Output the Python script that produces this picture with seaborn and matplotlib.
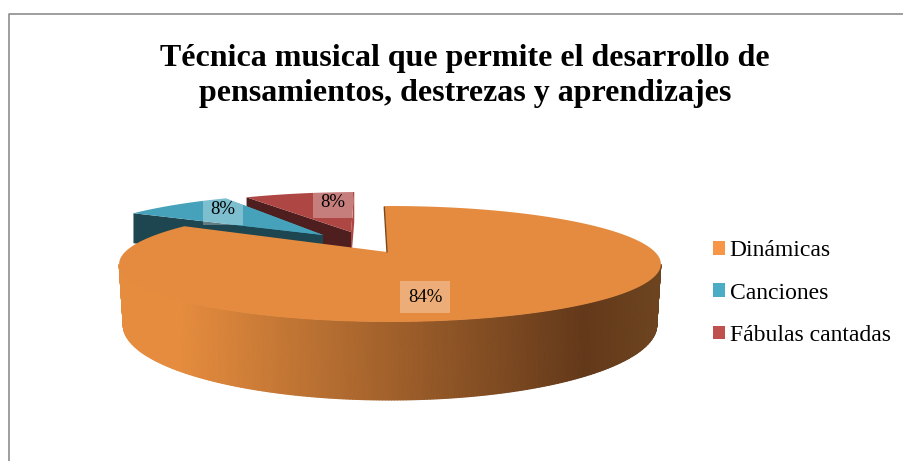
import numpy as np
import seaborn as sns
import matplotlib.pyplot as plt
from matplotlib.patches import Patch

# datos del grafico
categorias = ['Dinámicas', 'Canciones', 'Fábulas cantadas']
valores = [84, 8, 8]
titulo = 'Técnica musical que permite el desarrollo de\npensamientos, destrezas y aprendizajes'

# colores
colores_tope = ['#E48B3F', '#46A2BB', '#AE4744']
colores_leyenda = ['#F79646', '#4BACC6', '#C0504D']
colores_pared = ['#7A4A1E', '#1D4650', '#4F1E1E']

sns.set_theme(style='white')
plt.rcParams['font.family'] = ['Liberation Serif', 'DejaVu Serif']

# desplazamiento de cada porcion y su vertice, en pixeles
desplaza = [(0, 0), (-51, -13), (-30, -14)]
vertices = [(387, 252), (323, 235), (351, 232)]
pos_etiquetas = [(425, 295), (223, 207), (333, 200)]
INICIO = -1.5
K = 0.207


def borde(theta, a, b, y0):
    # perspectiva sobre el disco unidad, angulo desde arriba en sentido horario
    t = np.radians(theta)
    x, y = np.sin(t), np.cos(t)
    d = 1 + K * y
    return 390 + a * x / d, y0 - b * y / d


def tope(theta):
    return borde(theta, 265, 55.5, 252)


fig = plt.figure(figsize=(9.04, 4.61), dpi=100)
ax = fig.add_axes([0, 0, 1, 1])
ax.set_xlim(0, 904)
ax.set_ylim(461, 0)
ax.axis('off')

# marco del grafico
ax.plot([9.5, 9.5, 904], [461, 14.5, 14.5], color='#8E8E8E', lw=1.2)

# angulos de cada porcion a partir de los valores
acum = np.cumsum([0] + valores) / sum(valores) * 360 + INICIO

# porciones separadas: primero roja, luego azul
for i in [2, 1]:
    th = np.linspace(acum[i], acum[i + 1], 40)
    rx, ry = tope(th)
    rx = rx + desplaza[i][0]
    ry = ry + desplaza[i][1]
    vx, vy = vertices[i]
    prof = 30
    # paredes interiores
    ax.fill([rx[-1], vx, vx, rx[-1]], [ry[-1], vy, vy + prof, ry[-1] + prof],
            color=colores_tope[i], lw=0)
    ax.fill([rx[0], vx, vx, rx[0]], [ry[0], vy, vy + prof, ry[0] + prof],
            color=colores_pared[i], lw=0)
    ax.fill(np.r_[vx, rx], np.r_[vy, ry], color=colores_tope[i], lw=0)

# lateral de la porcion naranja con degradado
th = np.linspace(102, 258, 300)
x_sup, y_sup = tope(th)
x_inf, y_inf = borde(th, 261, 71.8, 309.5)
malla_x = np.column_stack([x_sup, x_inf])
malla_y = np.column_stack([y_sup, y_inf])
tonos = np.interp(malla_x, [180, 585, 661], [0, 0.5, 1])
degradado = sns.blend_palette(['#E58C3E', '#63391A', '#6E4520'], as_cmap=True)
ax.pcolormesh(malla_x, malla_y, tonos, shading='gouraud', cmap=degradado, vmin=0, vmax=1)

# pared fina al inicio de la porcion naranja
x0, y0 = tope(acum[0])
ax.plot([x0, vertices[0][0]], [y0 + 1, vertices[0][1]], color=colores_pared[0], lw=1)

# cara superior naranja
th = np.linspace(acum[0], acum[1], 300)
rx, ry = tope(th)
ax.fill(np.r_[vertices[0][0], rx], np.r_[vertices[0][1], ry], color=colores_tope[0], lw=0)

# etiquetas de porcentaje
for v, (ex, ey) in zip(valores, pos_etiquetas):
    ax.text(ex, ey, f'{v}%', ha='center', va='center_baseline', fontsize=13.5, color='black',
            bbox=dict(boxstyle='square,pad=0.42', fc='white', ec='none', alpha=0.3))

ax.text(465, 76, titulo, ha='center', va='center', fontsize=23, fontweight='bold',
        color='black', linespacing=1.27)

# leyenda
marcas = [Patch(facecolor=c, edgecolor='none', label=n) for c, n in zip(colores_leyenda, categorias)]
ax.legend(handles=marcas, loc='center left', bbox_to_anchor=(713 / 904, 1 - 293 / 461),
          frameon=False, fontsize=17, labelspacing=0.9, handlelength=0.51,
          handleheight=0.51, handletextpad=0.2, borderpad=0, borderaxespad=0,
          labelcolor='black')

plt.savefig('out.png', dpi=100)
plt.close()
